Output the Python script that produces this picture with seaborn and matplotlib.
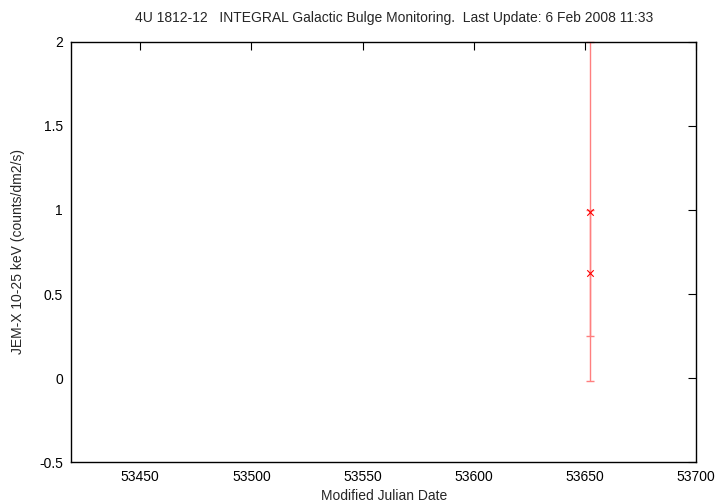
import matplotlib
matplotlib.use("Agg")
import matplotlib.pyplot as plt
import seaborn as sns
import pandas as pd

mjd = [53652.5, 53652.5]
rate = [0.99, 0.627]
err = [1.01, 0.375]

title = "4U 1812-12   INTEGRAL Galactic Bulge Monitoring.  Last Update: 6 Feb 2008 11:33"
xticks = [53450, 53500, 53550, 53600, 53650, 53700]
yticks = [-0.5, 0, 0.5, 1, 1.5, 2]
yticklabels = ["-0.5", "0", "0.5", "1", "1.5", "2"]

sns.set_theme(style="white")
plt.rcParams['font.family'] = ['Liberation Sans', 'DejaVu Sans']

df = pd.DataFrame({"mjd": mjd, "rate": rate, "err": err})

fig = plt.figure(figsize=(7.2, 5.04), dpi=100)
ax = fig.add_axes([71.3/720, 42/504, (696-71.3)/720, 420/504])

ax.errorbar(df["mjd"], df["rate"], yerr=df["err"], fmt="none",
            ecolor="#ff7f7f", elinewidth=1.0, capsize=3, capthick=1.0,
            zorder=2, clip_on=False)
sns.scatterplot(data=df, x="mjd", y="rate", marker="x", color="#ff0000",
                s=22, linewidth=0.8, ax=ax, zorder=3)

ax.set_xlim(53419, 53700)
ax.set_ylim(-0.5, 2)
ax.set_xticks(xticks)
ax.set_xticklabels([str(t) for t in xticks])
ax.set_yticks(yticks)
ax.set_yticklabels(yticklabels)
ax.tick_params(direction="in", length=6, width=0.8, top=True, right=True,
               labelsize=10, colors="black", pad=6)
for s in ax.spines.values():
    s.set_color("black")
    s.set_linewidth(1.0)
    s.set_visible(True)
ax.set_xlabel("Modified Julian Date", fontsize=10, labelpad=3)
ax.set_ylabel("JEM-X 10-25 keV (counts/dm2/s)", fontsize=10, labelpad=10)
fig.text(394/720, 1 - 18/504, title, ha="center", va="center", fontsize=10)
ax.grid(False)

fig.savefig("out.png", dpi=100)
